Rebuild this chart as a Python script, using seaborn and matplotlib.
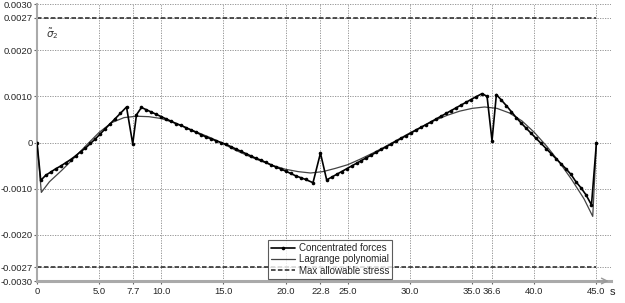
import numpy as np
import pandas as pd
import seaborn as sns
import matplotlib.pyplot as plt

## values
conc_x = [0, 0.3, 0.7, 1.1, 1.5, 1.9, 2.3, 2.7, 3.1, 3.5, 3.9, 4.3, 4.7, 5.1, 5.5, 5.9, 6.3, 6.7, 7.2,
          7.7, 8.0, 8.4, 8.8, 9.2, 9.6, 10.0, 10.4, 10.8, 11.2, 11.6, 12.0, 12.4, 12.8, 13.2, 13.6,
          14.0, 14.4, 14.8, 15.2, 15.6, 16.0, 16.4, 16.8, 17.2, 17.6, 18.0, 18.4, 18.8, 19.2, 19.6,
          20.0, 20.4, 20.8, 21.2, 21.6, 22.2, 22.8, 23.3, 23.7, 24.1, 24.5, 24.9, 25.3, 25.7, 26.1,
          26.5, 26.9, 27.3, 27.7, 28.1, 28.5, 28.9, 29.3, 29.7, 30.1, 30.5, 30.9, 31.3, 31.7, 32.1,
          32.5, 32.9, 33.3, 33.7, 34.1, 34.5, 34.9, 35.3, 35.8, 36.2, 36.6, 36.95, 37.35, 37.75,
          38.15, 38.55, 38.95, 39.35, 39.75, 40.15, 40.55, 40.95, 41.35, 41.75, 42.15, 42.55, 42.95,
          43.35, 43.75, 44.15, 44.6, 45.0]
conc_y = [0, -0.00082, -0.00071, -0.00064, -0.00057, -0.00051, -0.00044, -0.00037, -0.00029,
          -0.00020, -0.00012, -0.00002, 0.00008, 0.00019, 0.00030, 0.00041, 0.00052, 0.00063, 0.00077,
          -0.00003, 0.00060, 0.00076, 0.00071, 0.00066, 0.00061, 0.00056, 0.00051, 0.00046, 0.00041,
          0.00037, 0.00032, 0.00027, 0.00022, 0.00017, 0.00012, 0.00008, 0.00004, 0.00000, -0.00004,
          -0.00009, -0.00014, -0.00019, -0.00024, -0.00029, -0.00034, -0.00038, -0.00043, -0.00048,
          -0.00053, -0.00057, -0.00062, -0.00067, -0.00072, -0.00076, -0.00080, -0.00087, -0.00023,
          -0.00081, -0.00075, -0.00069, -0.00063, -0.00057, -0.00051, -0.00045, -0.00039, -0.00033,
          -0.00027, -0.00021, -0.00015, -0.00009, -0.00003, 0.00003, 0.00009, 0.00015, 0.00021,
          0.00027, 0.00033, 0.00039, 0.00045, 0.00051, 0.00057, 0.00063, 0.00069, 0.00075, 0.00081,
          0.00087, 0.00093, 0.00099, 0.00106, 0.00100, 0.00004, 0.00104, 0.00092, 0.00080, 0.00067,
          0.00054, 0.00042, 0.00031, 0.00020, 0.00009, -0.00002, -0.00013, -0.00024, -0.00035,
          -0.00046, -0.00057, -0.00069, -0.00085, -0.00098, -0.00113, -0.00135, 0.0]

lag_x = [0, 0.35, 1, 2, 3, 4, 5, 6, 7, 8, 9, 10, 11, 12, 13, 14, 15, 16, 17, 18, 19, 20, 21, 22,
         23, 24, 25, 26, 27, 28, 29, 30, 31, 32, 33, 34, 35, 36, 37, 38, 39, 40, 41, 42, 43, 44,
         44.7, 45]
lag_y = [0, -0.00108, -0.00085, -0.00060, -0.00033, -0.00005, 0.00022, 0.00043, 0.00054, 0.00057,
         0.00056, 0.00052, 0.00043, 0.00032, 0.00021, 0.00010, -0.00003, -0.00017, -0.00029,
         -0.00040, -0.00050, -0.00058, -0.00063, -0.00066, -0.00063, -0.00056, -0.00048, -0.00036,
         -0.00023, -0.00009, 0.00006, 0.00021, 0.00035, 0.00048, 0.00059, 0.00068, 0.00074, 0.00077,
         0.00074, 0.00064, 0.00047, 0.00022, -0.00008, -0.00042, -0.00080, -0.00122, -0.00160, 0]

stress_limit = 0.0027
x_ticks = [0, 5.0, 7.7, 10.0, 15.0, 20.0, 22.8, 25.0, 30.0, 35.0, 36.6, 40.0, 45.0]
x_labels = ["0", "5.0", "7.7", "10.0", "15.0", "20.0", "22.8", "25.0", "30.0", "35.0", "36.6", "40.0", "45.0"]
y_ticks = [-0.0030, -0.0027, -0.0020, -0.0010, 0, 0.0010, 0.0020, 0.0027, 0.0030]
y_labels = ["-0.0030", "-0.0027", "-0.0020", "-0.0010", "0", "0.0010", "0.0020", "0.0027", "0.0030"]

conc = pd.DataFrame({"s": conc_x, "stress": conc_y})
lag = pd.DataFrame({"s": lag_x, "stress": lag_y})
lim = pd.DataFrame({"s": [0, 45.0], "up": [stress_limit, stress_limit], "low": [-stress_limit, -stress_limit]})

sns.set_style("white")
plt.rcParams['font.family'] = ['Liberation Sans', 'DejaVu Sans']

fig = plt.figure(figsize=(6.25, 3.03), dpi=100)
ax = fig.add_axes([0.0592, 0.0726, 0.919, 0.914])

sns.lineplot(data=lag, x="s", y="stress", ax=ax, color="#444444", linewidth=0.9,
             label="Lagrange polynomial", zorder=3)
sns.lineplot(data=conc, x="s", y="stress", ax=ax, color="black", linewidth=1.2, marker="o",
             markersize=2.6, markeredgewidth=0, label="Concentrated forces", zorder=4)
sns.lineplot(data=lim, x="s", y="up", ax=ax, color="#222222", linewidth=1.1, linestyle=(0, (3, 1.5)),
             label="Max allowable stress", zorder=2)
sns.lineplot(data=lim, x="s", y="low", ax=ax, color="#222222", linewidth=1.1, linestyle=(0, (3, 1.5)),
             label="_nolegend_", zorder=2)

ax.set_xlim(0, 46.2)
ax.set_ylim(-0.0030, 0.0030)
ax.set_xticks(x_ticks)
ax.set_xticklabels(x_labels)
ax.set_yticks(y_ticks)
ax.set_yticklabels(y_labels)
ax.set_xlabel("")
ax.set_ylabel("")
ax.tick_params(labelsize=6.8, length=2, width=0.8, color="#666666", pad=1, direction="out")
ax.tick_params(axis="x", bottom=True, pad=2)
ax.tick_params(axis="y", left=True)
ax.grid(True, linestyle=(0, (1.5, 1.5)), color="#888888", linewidth=0.6)

for side in ["top", "right"]:
    ax.spines[side].set_visible(False)
ax.spines["left"].set_color("#aaaaaa")
ax.spines["left"].set_linewidth(1.5)
ax.spines["bottom"].set_color("#aaaaaa")
ax.spines["bottom"].set_linewidth(2.2)

ax.annotate("", xy=(1.0, 0), xycoords="axes fraction", xytext=(0.97, 0),
            arrowprops=dict(arrowstyle="->", color="#999999", lw=1.0))
ax.text(0.998, -0.02, "s", transform=ax.transAxes, fontsize=8, ha="left", va="top")
ax.text(0.015, 0.88, r"$\tilde{\sigma}_{2}$", transform=ax.transAxes, fontsize=7.5, color="#333333")

handles, labels = ax.get_legend_handles_labels()
order = [labels.index("Concentrated forces"), labels.index("Lagrange polynomial"),
         labels.index("Max allowable stress")]
leg = ax.legend([handles[i] for i in order], [labels[i] for i in order], loc="lower left",
                bbox_to_anchor=(0.402, 0.008), fontsize=7, frameon=True, fancybox=False,
                handlelength=2.5, borderpad=0.3, labelspacing=0.15, handletextpad=0.4,
                borderaxespad=0)
leg.get_frame().set_edgecolor("#333333")
leg.get_frame().set_linewidth(0.8)

fig.savefig("out.png", dpi=100)
